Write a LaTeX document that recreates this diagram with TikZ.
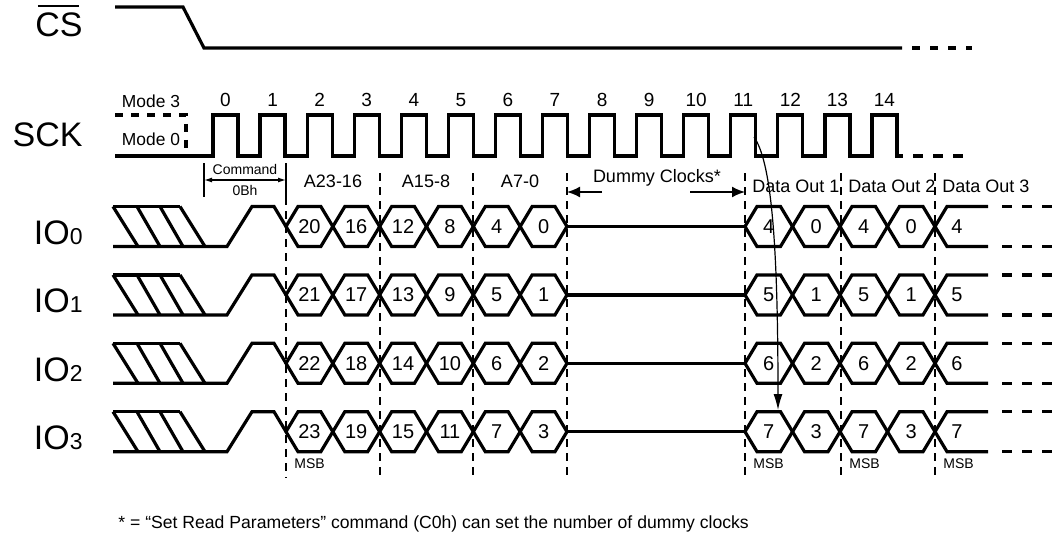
\documentclass[tikz,border=0pt]{standalone}
\usepackage{fontspec}
\setmainfont{Liberation Sans}
\usetikzlibrary{arrows.meta}
\tikzset{
  sig/.style={line width=1.6pt, line join=miter},
  guide/.style={line width=0.8pt, dash pattern=on 4pt off 3pt},
  signame/.style={inner sep=0pt, anchor=base east, font=\fontsize{17}{17}\selectfont},
  clknum/.style={inner sep=0pt, anchor=base, font=\fontsize{9.5}{10}\selectfont},
  hexnum/.style={inner sep=0pt, anchor=base, font=\fontsize{10}{11}\selectfont},
  seglbl/.style={inner sep=0pt, anchor=base, font=\fontsize{9}{10}\selectfont},
  modelbl/.style={inner sep=0pt, anchor=base, font=\fontsize{8.7}{10}\selectfont},
  smalllbl/.style={inner sep=0pt, anchor=base, font=\fontsize{7}{8}\selectfont},
  notelbl/.style={inner sep=0pt, anchor=base west, font=\fontsize{8.8}{10}\selectfont},
  dumarr/.style={line width=0.9pt, -{Latex[length=6.5pt,width=5.5pt]}},
}
% one data cell: left x, right x, centre y, name, text
\newcommand{\hexcell}[5]{%
  \draw[sig] (#1,#3) -- (#1+12,#3-20) -- (#2-12,#3-20) -- (#2,#3)
    -- (#2-12,#3+20) -- (#1+12,#3+20) -- cycle;
  \node[hexnum] (#4) at ({(#1+#2)/2},#3+7) {#5};}

\begin{document}
\begin{tikzpicture}[x=0.5pt,y=-0.5pt]
  \useasboundingbox (0,0) rectangle (1054,535);
  % chip select
  \node[signame] (cs) at (83,37) {CS};
  \draw[line width=1.2pt] ([xshift=1.5pt,yshift=3.5pt]cs.north west) -- ([xshift=-2pt,yshift=3.5pt]cs.north east);
  \draw[sig] (115,7) -- (183,7) -- (204,48) -- (902,48);
  \draw[sig,dash pattern=on 4pt off 5pt] (912,48) -- (972,48);
  % clock
  \node[signame] (sck) at (83,147) {SCK};
  \node[modelbl] (m3) at (151,108) {Mode 3};
  \node[modelbl] (m0) at (151,146) {Mode 0};
  \draw[sig,dash pattern=on 4pt off 4pt] (115,115) -- (186,115) -- (186,156);
  \draw[sig] (115,156) foreach \k in {0,...,14} {-- (213+47.07*\k,156) -- ++(0,-41) -- ++(25,0) -- ++(0,41)} -- (903,156);
  \draw[sig,dash pattern=on 5pt off 5pt,dash phase=5pt] (903,156) -- (972,156);
  \foreach \k in {0,...,14}
    \node[clknum] (n\k) at (225.5+47.07*\k,107) {\k};
  % phases
  \draw[line width=0.8pt] (204,163) -- (204,197);
  \draw[line width=0.8pt] (286,163) -- (286,197);
  \coordinate (cmdL) at (204,180);
  \coordinate (cmdR) at (286,180);
  \draw[line width=0.6pt,{Latex[length=4pt,width=2.5pt]}-{Latex[length=4pt,width=2.5pt]}] (cmdL) -- (cmdR);
  \node[smalllbl] (cmd) at (245,174) {Command};
  \node[smalllbl] (obh) at (245,195) {0Bh};
  \node[seglbl] (a2316) at (333,187) {A23-16};
  \node[seglbl] (a158) at (426,187) {A15-8};
  \node[seglbl] (a70) at (520,187) {A7-0};
  \node[seglbl] (dummy) at (657,182) {Dummy Clocks*};
  \coordinate (dmL) at (567,192);
  \coordinate (dmLa) at (602,192);
  \coordinate (dmR) at (745,192);
  \coordinate (dmRa) at (690,192);
  \draw[dumarr] (dmLa) -- (dmL);
  \draw[dumarr] (dmRa) -- (dmR);
  \foreach \x/\t in {745/1,841/2,935/3}
    \node[seglbl,anchor=base west] (out\t) at (\x+7,192) {Data Out \t};
  % guides
  \draw[guide] (286,197) -- (286,478);
  \foreach \x in {380,473,567,745,841,935}
    \draw[guide] (\x,173) -- (\x,478);
  % data lanes
  \foreach \i [evaluate=\i as \c using 226.5+68.4*\i] in {0,...,3} {
    \node[signame] (io\i) at (83,\c+18) {IO{\fontsize{11.5}{12}\selectfont\i}};
    \draw[sig] (113,\c-20) -- (180,\c-20);
    \draw[sig] (113,\c+20) -- (227,\c+20) -- (252,\c-20) -- (274,\c-20) -- (286,\c);
    \foreach \a/\b in {113/138,137/160,160/183,180/205}
      \draw[sig] (\a,\c-20) -- (\b,\c+20);
    \foreach \v [count=\j from 0] in {20,16,12,8,4,0} {
      \pgfmathsetmacro\xa{286+46.83*\j}
      \pgfmathtruncatemacro\n{\v+\i}
      \hexcell{\xa}{\xa+46.83}{\c}{a\i-\j}{\n}
    }
    \draw[sig] (567,\c) -- (745,\c);
    \foreach \v [count=\j from 0] in {4,0,4,0} {
      \pgfmathsetmacro\xa{745+47.5*\j}
      \pgfmathtruncatemacro\n{\v+\i}
      \hexcell{\xa}{\xa+47.5}{\c}{d\i-\j}{\n}
    }
    \draw[sig] (988,\c-20) -- (947,\c-20) -- (935,\c) -- (947,\c+20) -- (988,\c+20);
    \draw[sig,dash pattern=on 5pt off 5pt,dash phase=5pt] (992,\c-20) -- (1054,\c-20);
    \draw[sig,dash pattern=on 5pt off 5pt,dash phase=5pt] (992,\c+20) -- (1054,\c+20);
    \pgfmathtruncatemacro\n{4+\i}
    \node[hexnum] (d\i-4) at (957,\c+7) {\n};
  }
  \foreach \x [count=\t] in {286,745,841,935}
    \node[smalllbl,anchor=base west] (msb\t) at (\x+8,468) {MSB};
  % first output bit
  \draw[line width=0.6pt,-{Latex[length=8pt,width=4.5pt]}] (754,137) .. controls (770,160) and (778,230) .. (778,410);
  \node[notelbl] (note) at (118,528) {* = “Set Read Parameters” command (C0h) can set the number of dummy clocks};
\end{tikzpicture}
\end{document}
